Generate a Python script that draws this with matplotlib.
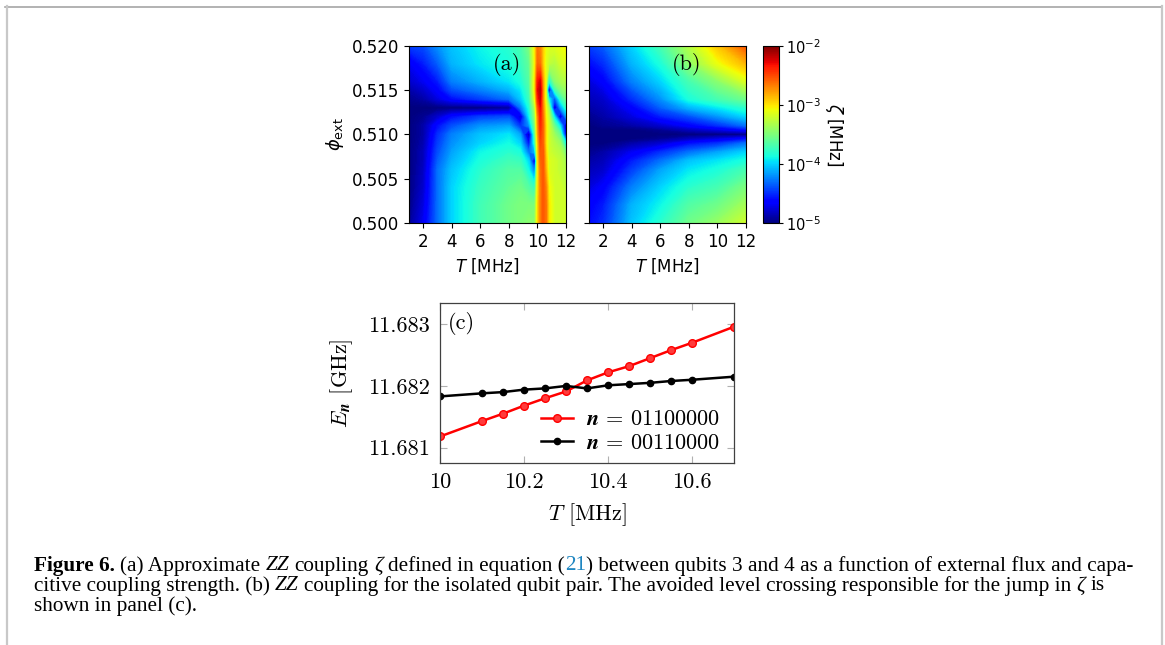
import numpy as np
import matplotlib
matplotlib.use("Agg")
import matplotlib.pyplot as plt
from matplotlib.colors import LogNorm
from matplotlib.cm import ScalarMappable
from matplotlib.lines import Line2D
from matplotlib.ticker import FixedLocator, FuncFormatter
from matplotlib.font_manager import FontProperties
from matplotlib.mathtext import MathTextParser

# ---------------- data ----------------
# panel (a): log10(zeta / MHz), rows = phi_a, columns = T_a
T_a = [1, 2, 3, 4, 6, 8, 8.8, 9.4, 9.8, 10.0, 10.2, 10.4, 10.6, 10.8, 11.2, 11.6, 12]
phi_a = [0.500, 0.502, 0.504, 0.506, 0.507, 0.508, 0.509, 0.510, 0.511,
         0.512, 0.513, 0.514, 0.515, 0.516, 0.518, 0.520]
logzeta_a = [
    [-4.95, -4.70, -4.30, -4.00, -3.72, -3.55, -3.50, -3.45, -3.45, -3.00, -2.70, -2.55, -2.65, -3.00, -3.20, -3.20, -3.20],
    [-4.98, -4.75, -4.30, -4.00, -3.72, -3.55, -3.50, -3.50, -3.50, -3.00, -2.70, -2.55, -2.65, -3.00, -3.20, -3.20, -3.20],
    [-5.00, -4.80, -4.30, -4.00, -3.75, -3.60, -3.55, -3.65, -3.75, -3.05, -2.70, -2.55, -2.70, -3.05, -3.20, -3.20, -3.25],
    [-5.00, -4.83, -4.30, -4.05, -3.80, -3.65, -3.65, -3.90, -4.30, -3.10, -2.65, -2.55, -2.85, -3.15, -3.20, -3.25, -3.30],
    [-5.00, -4.85, -4.35, -4.10, -3.85, -3.72, -3.75, -4.00, -4.80, -3.05, -2.60, -2.55, -2.90, -3.15, -3.20, -3.25, -3.35],
    [-5.00, -4.85, -4.40, -4.15, -3.90, -3.80, -3.85, -4.30, -4.10, -3.00, -2.55, -2.55, -2.95, -3.20, -3.25, -3.30, -3.50],
    [-5.00, -4.88, -4.45, -4.20, -4.00, -3.88, -4.00, -4.60, -3.80, -2.95, -2.50, -2.60, -3.00, -3.20, -3.30, -3.40, -3.90],
    [-5.00, -4.90, -4.50, -4.25, -4.05, -3.95, -4.15, -4.90, -3.65, -2.85, -2.45, -2.60, -3.00, -3.20, -3.40, -3.60, -4.70],
    [-5.00, -4.90, -4.60, -4.40, -4.20, -4.15, -4.50, -4.20, -3.55, -2.80, -2.40, -2.60, -3.00, -3.20, -3.60, -4.00, -4.80],
    [-5.00, -4.95, -4.80, -4.60, -4.45, -4.40, -4.80, -3.95, -3.45, -2.75, -2.35, -2.65, -3.05, -3.25, -4.00, -4.80, -4.20],
    [-5.00, -5.00, -5.00, -5.00, -5.00, -4.95, -4.30, -3.85, -3.35, -2.60, -2.30, -2.70, -3.10, -3.40, -4.80, -4.20, -3.80],
    [-4.95, -4.90, -4.75, -4.60, -4.45, -4.30, -4.05, -3.75, -3.15, -2.40, -2.20, -2.75, -3.20, -3.90, -4.40, -3.80, -3.55],
    [-4.90, -4.80, -4.65, -4.40, -4.25, -4.10, -3.95, -3.70, -3.05, -2.30, -2.15, -2.75, -3.20, -4.80, -3.75, -3.50, -3.40],
    [-4.80, -4.70, -4.55, -4.25, -4.10, -3.95, -3.85, -3.65, -3.05, -2.35, -2.25, -2.80, -3.15, -3.90, -3.45, -3.35, -3.30],
    [-4.70, -4.55, -4.35, -4.10, -3.95, -3.85, -3.75, -3.60, -3.10, -2.60, -2.65, -2.95, -3.15, -3.25, -3.30, -3.20, -3.15],
    [-4.45, -4.40, -4.20, -4.05, -3.90, -3.80, -3.70, -3.50, -3.05, -2.65, -2.70, -2.95, -3.10, -3.15, -3.15, -3.10, -3.05],
]

# panel (b): log10(zeta / MHz), isolated qubit pair
T_b = [1, 2, 4, 6, 8, 10, 12]
phi_b = [0.500, 0.502, 0.504, 0.506, 0.507, 0.508, 0.509, 0.5095, 0.510,
         0.5105, 0.511, 0.512, 0.513, 0.514, 0.516, 0.518, 0.520]
logzeta_b = [
    [-4.60, -4.50, -4.05, -3.80, -3.55, -3.40, -3.20],
    [-4.65, -4.55, -4.10, -3.90, -3.65, -3.55, -3.35],
    [-4.75, -4.65, -4.25, -4.00, -3.80, -3.70, -3.50],
    [-4.85, -4.80, -4.45, -4.15, -3.95, -3.85, -3.70],
    [-4.90, -4.85, -4.55, -4.30, -4.05, -3.95, -3.85],
    [-4.95, -4.90, -4.70, -4.50, -4.30, -4.15, -4.00],
    [-5.00, -5.00, -4.90, -4.80, -4.60, -4.50, -4.30],
    [-5.00, -5.00, -5.00, -4.95, -4.85, -4.75, -4.60],
    [-5.00, -5.00, -5.00, -5.00, -5.00, -5.00, -5.00],
    [-5.00, -5.00, -5.00, -4.95, -4.85, -4.75, -4.60],
    [-5.00, -4.95, -4.90, -4.80, -4.65, -4.50, -4.30],
    [-4.95, -4.90, -4.75, -4.55, -4.40, -4.20, -4.00],
    [-4.90, -4.85, -4.65, -4.35, -4.10, -3.95, -3.80],
    [-4.85, -4.80, -4.50, -4.20, -3.85, -3.70, -3.55],
    [-4.75, -4.65, -4.25, -4.00, -3.70, -3.45, -3.15],
    [-4.60, -4.50, -4.10, -3.85, -3.45, -3.10, -2.85],
    [-4.45, -4.35, -4.00, -3.70, -3.30, -2.90, -2.55],
]

# panel (c): energies in GHz
T_c = [10.0, 10.1, 10.15, 10.2, 10.25, 10.3, 10.35, 10.4, 10.45, 10.5, 10.55, 10.6, 10.7]
E_01100000 = [11.68118, 11.68143, 11.68155, 11.68168, 11.68180, 11.68191, 11.68209,
              11.68222, 11.68232, 11.68245, 11.68258, 11.68270, 11.68296]
E_00110000 = [11.68183, 11.68188, 11.68190, 11.68194, 11.68196, 11.68200, 11.68196,
              11.68201, 11.68203, 11.68205, 11.68208, 11.68210, 11.68215]

heat_xticks = [2, 4, 6, 8, 10, 12]
heat_yticks = [0.500, 0.505, 0.510, 0.515, 0.520]
c_xticks = [10.0, 10.2, 10.4, 10.6]
c_yticks = [11.681, 11.682, 11.683]
cbar_ticks = [1e-5, 1e-4, 1e-3, 1e-2]

# ---------------- figure ----------------
W, H = 1165, 645
fig = plt.figure(figsize=(W / 100, H / 100), dpi=100)


def box(l, t, r, b):
    return [l / W, 1 - b / H, (r - l) / W, (b - t) / H]


def mt_ok(s):
    try:
        MathTextParser("path").parse(s)
        return True
    except Exception:
        return False


nsym = r"\boldsymbol{n}" if mt_ok(r"$\boldsymbol{n}$") else r"\mathbf{n}"

ax_a = fig.add_axes(box(409, 45.7, 566, 223))
ax_b = fig.add_axes(box(589, 45.7, 745.7, 223))
cax = fig.add_axes(box(762.7, 46, 779, 223))
ax_c = fig.add_axes(box(440, 302.7, 734, 463))

levels = np.linspace(-5, -2, 241)
for ax, T, phi, Z, lab in [(ax_a, T_a, phi_a, logzeta_a, "(a)"),
                           (ax_b, T_b, phi_b, logzeta_b, "(b)")]:
    ax.contourf(np.array(T), np.array(phi), np.array(Z), levels=levels,
                cmap="jet", extend="both", antialiased=False)
    ax.set_xlim(1, 12)
    ax.set_ylim(0.500, 0.520)
    ax.set_xticks(heat_xticks)
    ax.set_yticks(heat_yticks)
    ax.yaxis.set_major_formatter(FuncFormatter(lambda v, p: f"{v:.3f}"))
    ax.tick_params(labelsize=12)
    ax.set_xlabel("$T$ [MHz]", fontsize=12)
    ax.text(0.625, 0.895, lab, transform=ax.transAxes, fontsize=16,
            family="cmr10", ha="center", va="center")

ax_a.set_ylabel(r"$\phi_{\rm ext}$", fontsize=13)
ax_b.tick_params(labelleft=False)

sm = ScalarMappable(norm=LogNorm(1e-5, 1e-2), cmap="jet")
cb = fig.colorbar(sm, cax=cax, ticks=cbar_ticks)
cb.ax.minorticks_off()
cb.ax.tick_params(labelsize=10.5, length=3, pad=2)
cb.set_label(r"$\zeta$ [MHz]", fontsize=12, rotation=270, va="center", ha="center")
cax.yaxis.set_label_coords(4.4, 0.5)

# ---------------- panel (c) ----------------
ax_c.plot(T_c, E_01100000, color="#ff0000", lw=1.8, marker="o", ms=5.5,
          mfc="#ff3b3b", mec="#ff0000", mew=1.0,
          label=rf"${nsym}\,=\,01100000$")
ax_c.plot(T_c, E_00110000, color="black", lw=1.8, marker="o", ms=4.5,
          mfc="black", mec="black", label=rf"${nsym}\,=\,00110000$")
ax_c.set_xlim(10.0, 10.7)
ax_c.set_ylim(11.68075, 11.68335)
ax_c.xaxis.set_major_locator(FixedLocator(c_xticks))
ax_c.yaxis.set_major_locator(FixedLocator(c_yticks))
ax_c.xaxis.set_major_formatter(FuncFormatter(lambda v, p: f"{v:g}"))
ax_c.yaxis.set_major_formatter(FuncFormatter(lambda v, p: f"{v:.3f}"))
ax_c.tick_params(direction="in", length=5, width=0.8, color="#b0b0b0",
                 top=True, right=True, pad=7)
for t in ax_c.get_xticklabels() + ax_c.get_yticklabels():
    t.set_family("cmr10")
    t.set_fontsize(16)
for s in ax_c.spines.values():
    s.set_color("#404040")
    s.set_linewidth(0.9)
ax_c.set_xlabel("$T$ [MHz]", family="cmr10", fontsize=16, math_fontfamily="cm")
ax_c.set_ylabel(rf"$E_{{{nsym}}}$ [GHz]", family="cmr10", fontsize=16,
                math_fontfamily="cm")
ax_c.xaxis.set_label_coords(0.5, -0.24)
ax_c.yaxis.set_label_coords(-0.29, 0.5)
ax_c.text(0.026, 0.94, "(c)", transform=ax_c.transAxes, family="cmr10",
          fontsize=16, ha="left", va="top")
leg = ax_c.legend(loc="upper left", bbox_to_anchor=(0.345, 0.335), frameon=False,
                  fontsize=16, handlelength=1.4, handletextpad=0.6,
                  labelspacing=0.15, borderpad=0, borderaxespad=0)
for t in leg.get_texts():
    t.set_math_fontfamily("cm")

# ---------------- page frame ----------------
fig.add_artist(Line2D([5 / W, 1162 / W], [1 - 6.5 / H, 1 - 6.5 / H],
                      transform=fig.transFigure, color="#a6a6a6", lw=1.2))
fig.add_artist(Line2D([6.5 / W, 6.5 / W], [1 - 6 / H, 0],
                      transform=fig.transFigure, color="#c8c8c8", lw=1.6))
fig.add_artist(Line2D([1161.5 / W, 1161.5 / W], [1 - 6 / H, 0],
                      transform=fig.transFigure, color="#c8c8c8", lw=1.6))

# ---------------- caption ----------------
renderer = fig.canvas.get_renderer()
FAM = "Liberation Serif"


def fprops(style, size):
    if style == "b":
        return FontProperties(family=FAM, weight="bold", size=size)
    if style == "i":
        return FontProperties(family=FAM, style="italic", size=size)
    return FontProperties(family=FAM, size=size)


def width_of(txt, fp):
    t1 = fig.text(0, 0, "I" + txt + "I", fontproperties=fp)
    w1 = t1.get_window_extent(renderer).width
    t1.remove()
    t2 = fig.text(0, 0, "II", fontproperties=fp)
    w2 = t2.get_window_extent(renderer).width
    t2.remove()
    return w1 - w2


BLUE = "#1f86c1"
caption = [
    [("Figure 6.", "b", "k"), (" (a) Approximate ", "n", "k"), ("ZZ", "i", "k"),
     (" coupling ", "n", "k"), ("ζ", "i", "k"), (" defined in equation (", "n", "k"),
     ("21", "n", BLUE),
     (") between qubits 3 and 4 as a function of external flux and capa-", "n", "k")],
    [("citive coupling strength. (b) ", "n", "k"), ("ZZ", "i", "k"),
     (" coupling for the isolated qubit pair. The avoided level crossing responsible for the jump in ", "n", "k"),
     ("ζ", "i", "k"), (" is", "n", "k")],
    [("shown in panel (c).", "n", "k")],
]
baselines = [570.5, 590.5, 610.5]
x0 = 33.5

s0 = 12.0
w_line1 = sum(width_of(s, fprops(st, s0)) for s, st, c in caption[0])
size = s0 * 1100.0 / w_line1

for line, yb in zip(caption, baselines):
    x = x0
    for s, st, c in line:
        fp = fprops(st, size)
        core = s.strip(" ")
        lead = len(s) - len(s.lstrip(" "))
        xs = x + (width_of(" " * lead, fp) if lead else 0)
        fig.text(xs / W, 1 - yb / H, core, fontproperties=fp, color=c,
                 ha="left", va="baseline")
        x += width_of(s, fp)

fig.savefig("out.png", dpi=100)
